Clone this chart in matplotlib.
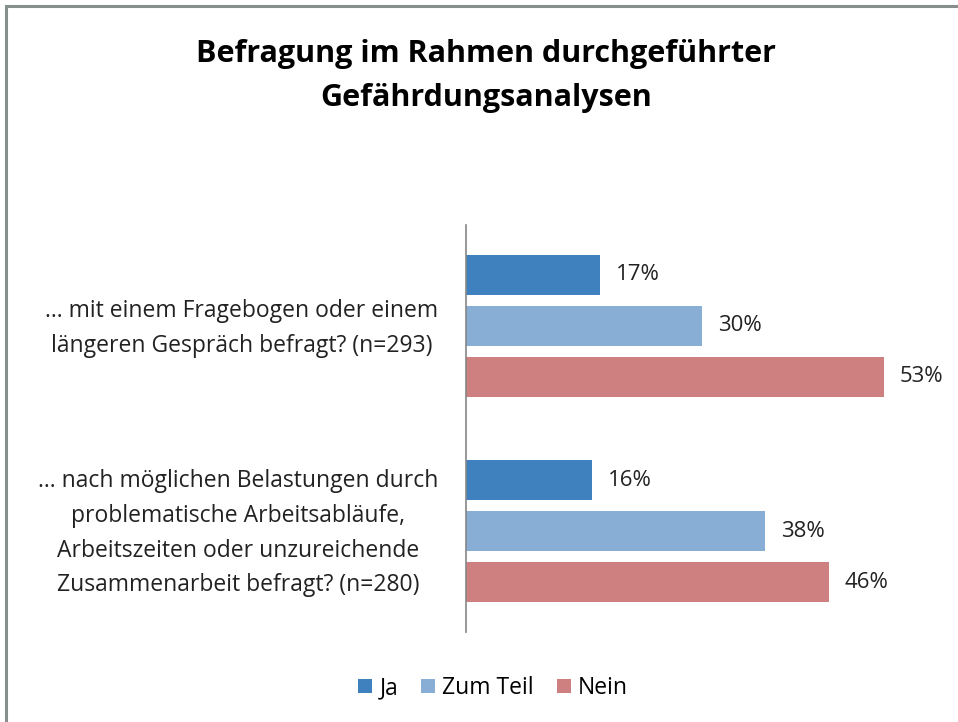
import numpy as np
import matplotlib.pyplot as plt
from matplotlib.patches import Rectangle

plt.rcParams["font.family"] = ["Open Sans", "DejaVu Sans"]

# %% Data
questions = [
    "… mit einem Fragebogen oder einem\nlängeren Gespräch befragt? (n=293)",
    "… nach möglichen Belastungen durch\nproblematische Arbeitsabläufe,\nArbeitszeiten oder unzureichende\nZusammenarbeit befragt? (n=280)",
]
series = ["Ja", "Zum Teil", "Nein"]
ja = [17, 16]
zum_teil = [30, 38]
nein = [53, 46]
colors = ["#3F81BF", "#89AED6", "#CE8080"]

# %% Plot
fig = plt.figure(figsize=(9.58, 7.22), dpi=100)
fig.patches.append(Rectangle((6 / 958, -0.1), 1.2, 1.0 - 6 / 722 + 0.1,
                             transform=fig.transFigure, fill=False,
                             edgecolor="#878E8E", linewidth=2.2))

ax = fig.add_axes([466 / 958, 1 - 632 / 722, 0.98 - 466 / 958, (632 - 225) / 722])

group = np.arange(len(questions)) * 4.02
for j, (name, vals) in enumerate(zip(series, [ja, zum_teil, nein])):
    pos = group + j
    ax.barh(pos, vals, height=0.79, color=colors[j], label=name)
    for p, v in zip(pos, vals):
        ax.text(v + 2.0, p, f"{v}%", va="center", ha="left", fontsize=16, color="#222222")

ax.set_xlim(0, 60)
ax.set_ylim(7.0, -0.98)
# label block sits a little above the middle bar
ax.set_yticks(group + 0.88)
ax.set_yticklabels(questions, fontsize=16.5, color="#222222", linespacing=1.6,
                   multialignment="center")
ax.tick_params(axis="y", length=0, pad=20)
ax.set_xticks([])
for s in ["top", "right", "bottom"]:
    ax.spines[s].set_visible(False)
ax.spines["left"].set_color("#868686")
ax.spines["left"].set_linewidth(1.2)

fig.text(486 / 958, 1 - 76 / 722, "Befragung im Rahmen durchgeführter\nGefährdungsanalysen",
         ha="center", va="center", fontsize=22, fontweight="bold", linespacing=1.65)

fig.legend(loc="center", bbox_to_anchor=(493 / 958, 1 - 688 / 722), ncol=3, frameon=False,
           fontsize=16.5, handlelength=0.62, handleheight=0.62, handletextpad=0.3,
           columnspacing=1.0)

fig.savefig("out.png", dpi=100)
